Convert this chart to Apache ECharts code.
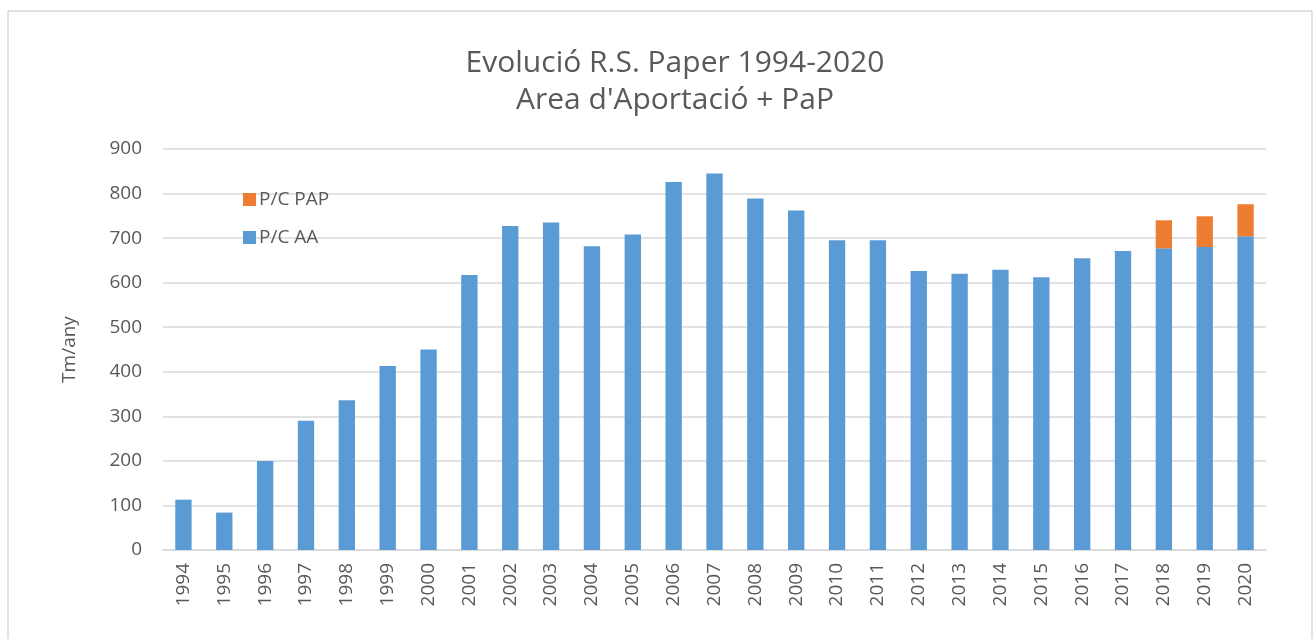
<!DOCTYPE html>
<html>
<head>
<meta charset="utf-8">
<title>Evolució R.S. Paper 1994-2020</title>
<script src="https://cdn.jsdelivr.net/npm/echarts@6/dist/echarts.min.js"></script>
<style>
  html, body { margin: 0; padding: 0; background: #ffffff; }
  #chart { width: 1313px; height: 639px; }
</style>
</head>
<body>
<div id="chart"></div>
<script>
// dades llegides del gràfic
var years = ['1994', '1995', '1996', '1997', '1998', '1999', '2000', '2001', '2002', '2003',
  '2004', '2005', '2006', '2007', '2008', '2009', '2010', '2011', '2012', '2013',
  '2014', '2015', '2016', '2017', '2018', '2019', '2020'];
var pcAA = [113, 84, 200, 290, 336, 413, 450, 617, 727, 735,
  682, 708, 826, 845, 789, 762, 695, 695, 626, 620,
  629, 612, 655, 671, 677, 680, 704];
var pcPAP = [null, null, null, null, null, null, null, null, null, null,
  null, null, null, null, null, null, null, null, null, null,
  null, null, null, null, 63, 69, 72];

var textColor = '#595959';
var chart = echarts.init(document.getElementById('chart'));

var option = {
  animation: false,
  textStyle: { fontFamily: 'Open Sans' },
  title: {
    text: 'Evolució R.S. Paper 1994-2020\nArea d\'Aportació + PaP',
    left: 670,
    top: 40,
    textAlign: 'center',
    textStyle: {
      fontSize: 30,
      fontWeight: 'normal',
      color: textColor,
      lineHeight: 37,
      fontFamily: 'Open Sans'
    }
  },
  graphic: [{
    type: 'rect',
    shape: { x: 8, y: 11, width: 1304, height: 640 },
    style: { fill: 'none', stroke: '#d9d9d9', lineWidth: 1.5 },
    silent: true
  }],
  legend: {
    orient: 'vertical',
    left: 238,
    top: 185,
    itemWidth: 13,
    itemHeight: 13,
    itemGap: 19,
    icon: 'rect',
    data: ['P/C PAP', 'P/C AA'],
    textStyle: { fontSize: 19, color: textColor, padding: [0, 0, 0, -2] }
  },
  grid: {
    left: 163,
    right: 47,
    top: 149,
    bottom: 89
  },
  xAxis: {
    type: 'category',
    data: years,
    axisLine: { lineStyle: { color: '#d9d9d9', width: 1.5 } },
    axisTick: { show: false },
    axisLabel: {
      rotate: 90,
      margin: 13,
      fontSize: 19,
      color: textColor,
      interval: 0
    }
  },
  yAxis: {
    type: 'value',
    min: 0,
    max: 900,
    interval: 100,
    name: 'Tm/any',
    nameLocation: 'middle',
    nameGap: 84,
    nameTextStyle: { fontSize: 19, color: textColor },
    axisLine: { show: false },
    axisTick: { show: false },
    splitLine: { lineStyle: { color: '#d9d9d9', width: 1.5 } },
    axisLabel: { margin: 21, fontSize: 19, color: textColor }
  },
  series: [
    {
      name: 'P/C AA',
      type: 'bar',
      stack: 'total',
      barWidth: '40%',
      itemStyle: { color: '#5b9bd5' },
      data: pcAA
    },
    {
      name: 'P/C PAP',
      type: 'bar',
      stack: 'total',
      barWidth: '40%',
      itemStyle: { color: '#ed7d31' },
      data: pcPAP
    }
  ]
};

chart.setOption(option);
</script>
</body>
</html>
